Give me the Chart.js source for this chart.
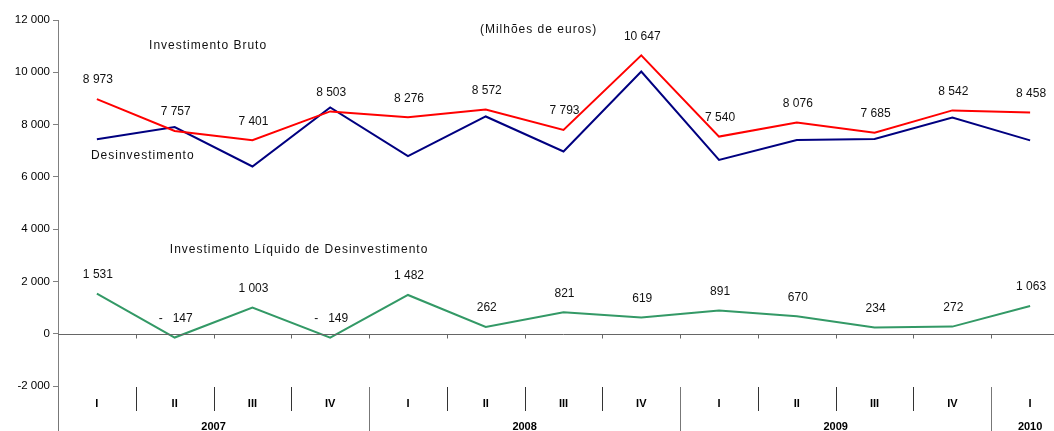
<!DOCTYPE html>
<html>
<head>
<meta charset="utf-8">
<script src="https://cdn.jsdelivr.net/npm/chart.js@4"></script>
<style>
    body { margin: 0; background: #fff; overflow: hidden; }
    #wrap { width: 1072px; height: 431px; }
</style>
</head>
<body>
<div id="wrap"><canvas id="grafico" width="1072" height="431"></canvas></div>
<script>
// Dados (milhões de euros), trimestres 2007 I - 2010 I
const trimestres = ['I', 'II', 'III', 'IV', 'I', 'II', 'III', 'IV', 'I', 'II', 'III', 'IV', 'I'];
const anos = ['2007', '2008', '2009', '2010'];
const trimestresPorAno = [4, 4, 4, 1];
const investimentoBruto = [8973, 7757, 7401, 8503, 8276, 8572, 7793, 10647, 7540, 8076, 7685, 8542, 8458];
const desinvestimento = [7442, 7904, 6398, 8652, 6794, 8310, 6972, 10028, 6649, 7406, 7451, 8270, 7395];
const investimentoLiquido = [1531, -147, 1003, -149, 1482, 262, 821, 619, 891, 670, 234, 272, 1063];
const ticksY = [-2000, 0, 2000, 4000, 6000, 8000, 10000, 12000];

const FONTE = '"Liberation Sans", Arial, sans-serif';

// Separador de milhares com espaço
function milhares(v) {
    return Math.abs(v).toString().replace(/\B(?=(\d{3})+(?!\d))/g, ' ');
}
function formatarRotulo(v) {
    return v < 0 ? '-   ' + milhares(v) : milhares(v);
}
function formatarEixo(v) {
    return (v < 0 ? '-' : '') + milhares(v);
}

// Plugin: eixo horizontal em zero, rótulos de categorias, rótulos de dados e nomes das séries
const pluginDesenho = {
    id: 'desenho',
    afterDatasetsDraw(chart) {
        const ctx = chart.ctx;
        const x = chart.scales.x;
        const y = chart.scales.y;
        const area = chart.chartArea;
        const n = trimestres.length;
        const passo = x.getPixelForValue(1) - x.getPixelForValue(0);
        const limites = [];
        for (let i = 0; i <= n; i++) limites.push(x.getPixelForValue(0) - passo / 2 + i * passo);

        ctx.save();
        // linha do zero
        const y0 = Math.round(y.getPixelForValue(0)) + 0.5;
        ctx.strokeStyle = '#666';
        ctx.lineWidth = 1;
        ctx.beginPath();
        ctx.moveTo(area.left, y0);
        ctx.lineTo(area.right, y0);
        limites.slice(1).forEach(lx => {
            const px = Math.round(lx) + 0.5;
            ctx.moveTo(px, y0);
            ctx.lineTo(px, y0 + 4);
        });
        ctx.stroke();

        // separadores de trimestres e anos
        const fimAnos = [];
        let acum = 0;
        trimestresPorAno.forEach(q => { acum += q; fimAnos.push(acum); });
        const topo = area.bottom + 1;
        limites.forEach((lx, i) => {
            const px = Math.round(lx) + 0.5;
            const ehAno = i === 0 || fimAnos.includes(i);
            ctx.strokeStyle = ehAno ? '#777' : '#333';
            ctx.beginPath();
            ctx.moveTo(px, topo);
            ctx.lineTo(px, ehAno ? chart.height : topo + 24);
            ctx.stroke();
        });

        // rótulos de trimestres e anos
        ctx.fillStyle = '#000';
        ctx.textAlign = 'center';
        ctx.textBaseline = 'middle';
        ctx.font = 'bold 11px ' + FONTE;
        trimestres.forEach((t, i) => ctx.fillText(t, x.getPixelForValue(i), topo + 17));
        let inicio = 0;
        anos.forEach((a, k) => {
            const fim = inicio + trimestresPorAno[k];
            ctx.fillText(a, (limites[inicio] + limites[fim]) / 2, topo + 40);
            inicio = fim;
        });

        // rótulos de dados
        ctx.font = '12px ' + FONTE;
        ctx.fillStyle = '#111';
        [investimentoBruto, investimentoLiquido].forEach(serie => {
            serie.forEach((v, i) => {
                ctx.fillText(formatarRotulo(v), x.getPixelForValue(i) + 1, y.getPixelForValue(v) - 19);
            });
        });

        // nomes das séries e unidade
        ctx.letterSpacing = '1px';
        ctx.fillText('Investimento Bruto', x.getPixelForValue(1.43), y.getPixelForValue(11000));
        ctx.fillText('Desinvestimento', x.getPixelForValue(0.59), y.getPixelForValue(6800));
        ctx.fillText('Investimento Líquido de Desinvestimento', x.getPixelForValue(2.6), y.getPixelForValue(3200));
        ctx.fillText('(Milhões de euros)', x.getPixelForValue(5.68), y.getPixelForValue(11620));
        ctx.restore();
    }
};

function criarGrafico() {
    const ctx = document.getElementById('grafico').getContext('2d');
    new Chart(ctx, {
        type: 'line',
        data: {
            labels: trimestres,
            datasets: [
                {
                    label: 'Investimento Bruto',
                    data: investimentoBruto,
                    borderColor: '#FF0000',
                    borderWidth: 2,
                    pointRadius: 0,
                    tension: 0
                },
                {
                    label: 'Desinvestimento',
                    data: desinvestimento,
                    borderColor: '#000080',
                    borderWidth: 2,
                    pointRadius: 0,
                    tension: 0
                },
                {
                    label: 'Investimento Líquido de Desinvestimento',
                    data: investimentoLiquido,
                    borderColor: '#339966',
                    borderWidth: 2,
                    pointRadius: 0,
                    tension: 0
                }
            ]
        },
        options: {
            responsive: false,
            animation: false,
            layout: { padding: { top: 20, bottom: 45, right: 3, left: 0 } },
            plugins: {
                legend: { display: false },
                tooltip: { enabled: false }
            },
            scales: {
                x: {
                    type: 'category',
                    offset: true,
                    display: false
                },
                y: {
                    min: -2000,
                    max: 12000,
                    afterBuildTicks: scale => { scale.ticks = ticksY.map(v => ({ value: v })); },
                    afterFit: scale => { scale.width = 58; },
                    border: { display: true, color: '#808080', width: 1 },
                    grid: { drawOnChartArea: false, tickLength: 5, color: '#808080' },
                    ticks: {
                        padding: 3,
                        color: '#000',
                        font: { family: FONTE, size: 11.5 },
                        callback: v => formatarEixo(v)
                    }
                }
            }
        },
        plugins: [pluginDesenho]
    });
}

document.addEventListener('DOMContentLoaded', criarGrafico);
</script>
</body>
</html>
